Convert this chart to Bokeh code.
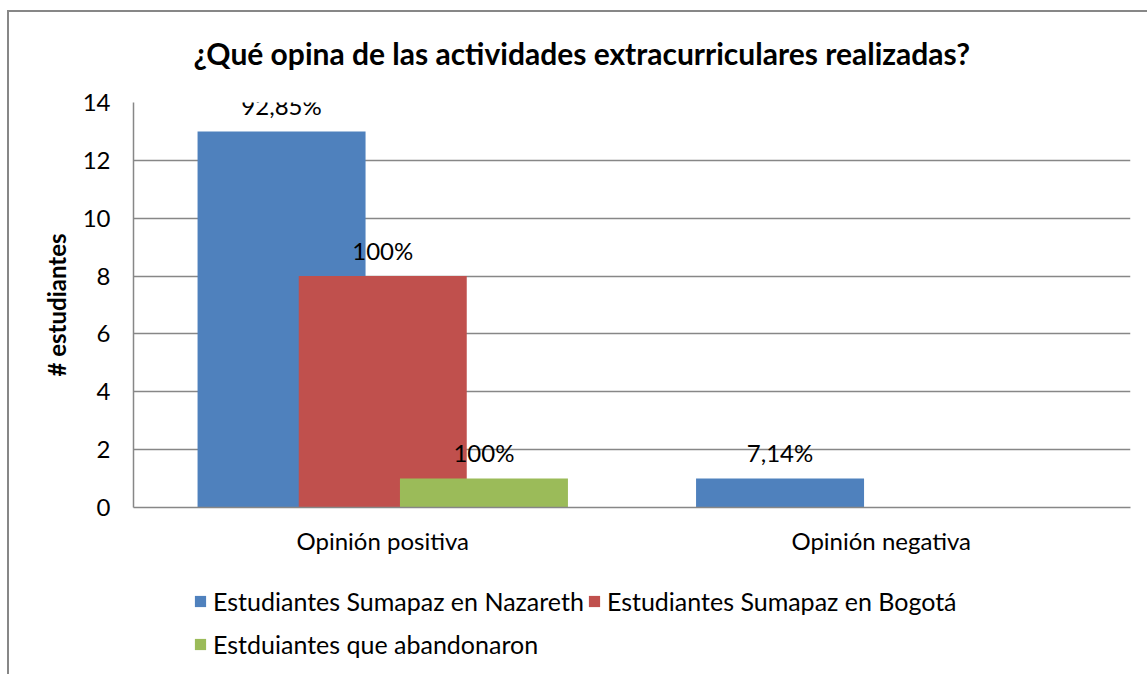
from bokeh.plotting import figure
from bokeh.models import ColumnDataSource, FactorRange, Legend, LegendItem, FixedTicker
from bokeh.layouts import column
from bokeh.transform import dodge
from bokeh.core.properties import value
from bokeh.embed import file_html
from bokeh.resources import INLINE

categories = ["Opinión positiva", "Opinión negativa"]
series_names = ["Estudiantes Sumapaz en Nazareth", "Estudiantes Sumapaz en Bogotá", "Estduiantes que abandonaron"]
nazareth = [13, 1]
bogota = [8, 0]
abandonaron = [1, 0]
lab_nazareth = ["92,85%", "7,14%"]
lab_bogota = ["100%", ""]
lab_abandonaron = ["100%", ""]
colors = ["#4F81BD", "#C0504D", "#9BBB59"]
y_ticks = [0, 2, 4, 6, 8, 10, 12, 14]

FONT = "Lato"
GRAY = "#878787"

src = ColumnDataSource(dict(cat=categories, naz=nazareth, bog=bogota, aba=abandonaron,
                            lnaz=lab_nazareth, lbog=lab_bogota, laba=lab_abandonaron))

W = 1147
H_MAIN, H_LEG = 562, 112
p = figure(x_range=FactorRange(*categories), y_range=(0, 14), width=W, height=H_MAIN,
           output_backend="svg", toolbar_location=None,
           min_border_left=133, min_border_top=102, min_border_right=17, min_border_bottom=H_MAIN - 507)
p.x_range.range_padding = 0

p.title.text = "¿Qué opina de las actividades extracurriculares realizadas?"
p.title.align = "left"
p.title.offset = 60
p.title.text_font = FONT
p.title.text_font_size = "30px"
p.title.text_font_style = "bold"
p.title.text_color = "black"
p.title.standoff = 64

bw = 0.337
offs = [-0.203, 0.0, 0.203]
cols = ["naz", "bog", "aba"]
labs = ["lnaz", "lbog", "laba"]
for c, o, col in zip(cols, offs, colors):
    p.vbar(x=dodge("cat", o, range=p.x_range), top=c, width=bw, source=src,
           fill_color=col, line_color=None)
for c, o, lab in zip(cols, offs, labs):
    p.text(x=dodge("cat", o, range=p.x_range), y=c, text=lab, source=src,
           text_align="center", text_baseline="middle", y_offset=-26,
           text_font=value(FONT), text_font_size="24px", text_color="black")

p.yaxis.ticker = FixedTicker(ticks=y_ticks)
p.yaxis.axis_label = "# estudiantes"
p.yaxis.axis_label_text_font = FONT
p.yaxis.axis_label_text_font_size = "24px"
p.yaxis.axis_label_text_font_style = "bold"
p.yaxis.axis_label_text_color = "black"
p.yaxis.axis_label_standoff = 9
for ax in (p.xaxis, p.yaxis):
    ax.axis_line_color = GRAY
    ax.axis_line_width = 1.5
    ax.major_tick_line_color = None
    ax.minor_tick_line_color = None
    ax.major_tick_out = 0
    ax.major_tick_in = 0
    ax.major_label_text_font = FONT
    ax.major_label_text_font_size = "24px"
    ax.major_label_text_color = "black"
p.yaxis.major_label_standoff = 23
p.xaxis.major_label_standoff = 18

p.xgrid.grid_line_color = None
p.ygrid.grid_line_color = GRAY
p.ygrid.grid_line_width = 1.5
p.outline_line_color = None
p.border_fill_color = None

# legend figure: same series, drawn outside its visible range so only the legend shows
q = figure(x_range=FactorRange(*categories), y_range=(100, 101), width=W, height=H_LEG,
           output_backend="svg", toolbar_location=None,
           min_border_left=0, min_border_right=0, min_border_top=0, min_border_bottom=0)
q.axis.visible = False
q.grid.visible = False
q.outline_line_color = None
q.border_fill_color = None
q.background_fill_color = None
leg_renderers = []
for c, o, col in zip(cols, offs, colors):
    r = q.vbar(x=dodge("cat", o, range=q.x_range), top=c, width=bw, source=src,
               fill_color=col, line_color=None)
    leg_renderers.append(r)

legend = Legend(items=[LegendItem(label=series_names[i], renderers=[leg_renderers[i]]) for i in range(3)],
                orientation="horizontal", ncols=2, location=(60, 10),
                label_text_font=FONT, label_text_font_size="25px", label_text_color="black",
                glyph_width=14, glyph_height=14, label_standoff=6, spacing=3, label_height=40,
                padding=0, margin=0, border_line_color=None, background_fill_alpha=0)
q.add_layout(legend, "center")

lay = column(p, q, spacing=0)
lay.styles = {
    "background-image": "linear-gradient(#878787,#878787), linear-gradient(#878787,#878787)",
    "background-size": "2px 100%, 100% 2px",
    "background-position": "7px 10px, 7px 10px",
    "background-repeat": "no-repeat",
}

open("out.html", "w").write(file_html(lay, INLINE))
